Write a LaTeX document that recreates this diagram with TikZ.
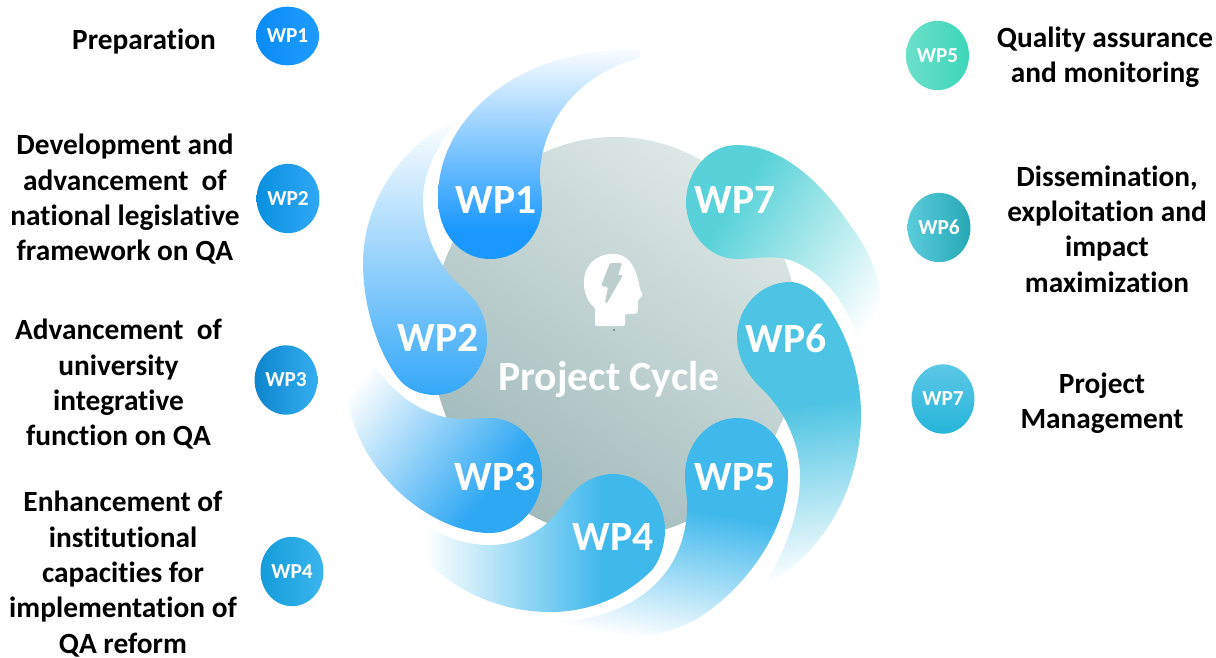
\documentclass[tikz,border=0pt]{standalone}
\usepackage{fontspec}
\setmainfont{Carlito}[RawFeature={-liga;-clig}]
\usetikzlibrary{shapes.geometric}
\definecolor{headcol}{HTML}{3FB8EC}
\definecolor{greyA}{HTML}{A0B9BA}
\definecolor{greyM}{HTML}{B2C7C6}
\definecolor{greyB}{HTML}{DDE8E6}
\definecolor{headgrey}{HTML}{BCCFCC}
\definecolor{blobA}{HTML}{1A98FF}
\definecolor{blobB}{HTML}{34A8F8}
\definecolor{blobC}{HTML}{2FA8F3}
\definecolor{blobE}{HTML}{3FB8EC}
\definecolor{blobF}{HTML}{4DC4E3}
\definecolor{blobG}{HTML}{58D2D8}
\pgfdeclareverticalshading[headcol]{softfade}{100bp}{color(0bp)=(headcol); color(32bp)=(headcol); color(75bp)=(white); color(100bp)=(white)}
\pgfdeclareverticalshading[headcol]{midfade}{100bp}{color(0bp)=(headcol); color(38bp)=(headcol); color(75bp)=(white); color(100bp)=(white)}
\pgfdeclareverticalshading[headcol]{headfade}{100bp}{color(0bp)=(headcol); color(45bp)=(headcol); color(76bp)=(white); color(100bp)=(white)}
\tikzset{
  fadeblob/.style n args={3}{shade,shading=#1,shading angle=#3,/utils/exec={\colorlet{headcol}{#2}}},
  biglabel/.style={text=white,inner sep=0pt,font=\fontsize{31.2}{33}\selectfont\bfseries},
  sidelabel/.style={text=black,inner sep=0pt,align=center,font=\fontsize{22}{26.5}\selectfont\bfseries},
  badge/.style={shape=ellipse,inner sep=0pt,text=white,minimum width=47.2pt,minimum height=52pt,font=\fontsize{16}{18}\selectfont\bfseries}
}
\begin{document}
\begin{tikzpicture}[x=.75pt,y=-.75pt]
    \useasboundingbox (0,0) rectangle (1216,657);
    % centre
    \path[shade,bottom color=greyA,middle color=greyM,top color=greyB,shading angle=-35] (615,337) ellipse (184 and 200);
    % petals, each one over the tail of the one before
    \path[fadeblob={softfade}{blobG}{-124}] (868,365) .. controls (892,325) and (885,270) .. (850,225) .. controls (820,180) and (780,145) .. (737,145) .. controls (708,145) and (686,172) .. (686,202) .. controls (686,232) and (708,259) .. (737,259) .. controls (755,259) and (765,256) .. (782,258) .. controls (815,265) and (845,295) .. (860,345) -- cycle;
    \path[fadeblob={headfade}{blobF}{188}] (765,585) .. controls (830,550) and (861,480) .. (861,415) .. controls (861,370) and (845,330) .. (823,300) .. controls (812,288) and (800,282) .. (790,282) .. controls (760,282) and (737,308) .. (737,337) .. controls (737,360) and (750,377) .. (760,387) .. controls (785,410) and (800,445) .. (800,475) .. controls (800,515) and (785,550) .. (765,585) -- cycle;
    \path[fadeblob={headfade}{blobE}{170}] (550,622) .. controls (575,632) and (605,637) .. (627,637) .. controls (655,637) and (680,628) .. (695,620) .. controls (745,590) and (788,530) .. (788,475) .. controls (788,443) and (767,418) .. (737,418) .. controls (707,418) and (685,445) .. (685,475) .. controls (685,490) and (688,500) .. (687,510) .. controls (685,570) and (640,620) .. (550,622) -- cycle;
    \path[fadeblob={midfade}{blobE}{90}] (425,525) .. controls (450,540) and (470,545) .. (490,545) .. controls (515,545) and (532,535) .. (545,525) .. controls (557,515) and (565,500) .. (575,490) .. controls (585,480) and (600,474) .. (613,474) .. controls (643,474) and (665,500) .. (665,530) .. controls (665,545) and (660,560) .. (652,570) .. controls (625,597) and (590,612) .. (550,612) .. controls (505,612) and (460,595) .. (425,560) -- cycle;
    \path[fadeblob={softfade}{blobC}{52}] (345,345) .. controls (340,400) and (355,450) .. (397,490) .. controls (425,517) and (460,533) .. (490,533) .. controls (520,533) and (542,505) .. (542,475) .. controls (542,445) and (520,418) .. (490,418) .. controls (475,418) and (465,420) .. (450,418) .. controls (410,412) and (372,375) .. (366,340) -- cycle;
    \path[shade,top color=white,bottom color=blobB] (460,118) .. controls (405,140) and (363,200) .. (363,263) .. controls (363,310) and (380,355) .. (398,378) .. controls (407,390) and (422,395) .. (435,395) .. controls (465,395) and (487,367) .. (487,340) .. controls (487,320) and (480,305) .. (470,295) .. controls (460,285) and (450,278) .. (443,266) .. controls (430,245) and (423,225) .. (423,200) .. controls (423,170) and (440,140) .. (460,118) -- cycle;
    \path[fadeblob={softfade}{blobA}{0}] (640,50) .. controls (530,45) and (438,110) .. (438,198) .. controls (438,233) and (460,259) .. (490,259) .. controls (522,259) and (542,232) .. (542,205) .. controls (542,190) and (539,180) .. (540,170) .. controls (545,110) and (590,70) .. (640,58) -- cycle;
    % head with the bolt
    \fill[white,rounded corners=1pt] (595,326) -- (625,326) -- (625,314) -- (633,314) .. controls (637,314) and (638,312) .. (638,308) -- (638,300) -- (643,295) -- (640,289) .. controls (636,266) and (628,254) .. (613,254) .. controls (596,254) and (584,266) .. (584,283) .. controls (584,294) and (589,303) .. (595,308) -- cycle;
    \fill[headgrey,rounded corners=1pt] (610,263) -- (622,263) -- (618,275) -- (623,275) -- (607,303) -- (605,303) -- (608,287) -- (601,286) -- cycle;
    \fill[black!70] (614,330) circle (.8);
    \node[biglabel] (cycle) at (609,379) {Project Cycle};
    \foreach \lbl/\x/\y in {WP1/496/200,WP2/438/338,WP3/495/477,WP4/613/537,WP5/735/477,WP6/786/338,WP7/735/200}
    \node[biglabel] (big\lbl) at (\x,\y) {\lbl};
    % badges
    \foreach \lbl/\x/\y/\colL/\colR/\tall in {WP1/287.5/36/0A8CF5/1F9BFF/44pt,WP2/288/198.5/0A8FE0/2FA8F5/52pt,WP3/286/380/0D85CC/35AEF0/52pt,WP4/292/571.5/159CD8/3AB5EE/52pt,WP5/937.5/55.5/6BE0C9/3DD6B9/52pt,WP6/939/227.5/5ACCDC/27A8B5/52pt}{
      \definecolor{badgeL}{HTML}{\colL}
      \definecolor{badgeR}{HTML}{\colR}
      \node[badge,minimum height=\tall,left color=badgeL,right color=badgeR] (badge\lbl) at (\x,\y) {\lbl};
    }
    \definecolor{badgeL}{HTML}{5CC7E6}
    \definecolor{badgeR}{HTML}{26B5D9}
    \node[badge,top color=badgeL,bottom color=badgeR] (badgeWP7) at (943,399) {WP7};
    % texts
    \node[sidelabel] (prep) at (144,42) {Preparation};
    \node[sidelabel] (law) at (125,199.5) {Development and\\advancement\ \ of\\national legislative\\framework on QA};
    \node[sidelabel] (univ) at (118.5,384.5) {Advancement\ \ of\\university\\integrative\\function on QA};
    \node[sidelabel] (inst) at (123,574) {Enhancement of\\institutional\\capacities for\\implementation of\\QA reform};
    \node[sidelabel] (quality) at (1105,57) {Quality assurance\\and monitoring};
    \node[sidelabel] (dissem) at (1107,229) {Dissemination,\\exploitation and\\impact\\maximization};
    \node[sidelabel] (manage) at (1102,403) {Project\\Management};
\end{tikzpicture}
\end{document}
